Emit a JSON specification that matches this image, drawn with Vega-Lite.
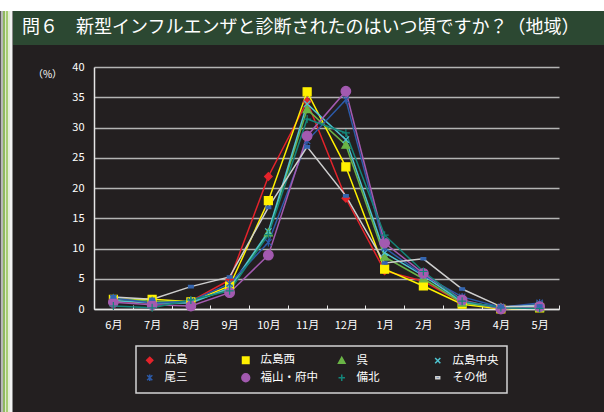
{
  "$schema": "https://vega.github.io/schema/vega-lite/v6.json",
  "background": "#231f20",
  "padding": 0,
  "bounds": "flush",
  "spacing": 0,
  "config": {
    "font": "Noto Sans CJK JP",
    "view": {"stroke": null},
    "axis": {
      "labelFont": "Noto Sans CJK JP",
      "labelColor": "#ffffff",
      "labelFontSize": 11,
      "titleFont": "Noto Sans CJK JP",
      "titleColor": "#ffffff",
      "titleFontSize": 10,
      "titleFontWeight": "normal",
      "domainColor": "#e6e6e6",
      "domainWidth": 1.5,
      "tickColor": "#e6e6e6",
      "gridColor": "#b4b4b4",
      "gridWidth": 1.5
    },
    "legend": {
      "labelFont": "Noto Sans CJK JP",
      "labelColor": "#ffffff",
      "labelFontSize": 11.5,
      "strokeColor": "#d4d4d4",
      "strokeWidth": 1.5,
      "fillColor": "#231f20",
      "symbolStrokeWidth": 1.2,
      "symbolOpacity": 1
    }
  },
  "vconcat": [
    {
      "width": 604,
      "height": 11,
      "view": {"fill": "#ffffff", "stroke": null},
      "data": {"values": []},
      "mark": "point"
    },
    {
      "bounds": "flush",
      "spacing": 0,
      "hconcat": [
        {
          "width": 13,
          "height": 401,
          "data": {"values": [{"part": "frame"}]},
          "mark": {
            "type": "rect",
            "fill": {
              "gradient": "linear",
              "x1": 0, "y1": 0, "x2": 1, "y2": 0,
              "stops": [
                {"offset": 0, "color": "#5a5a5a"},
                {"offset": 0.08, "color": "#5a5a5a"},
                {"offset": 0.08, "color": "#b8b8b8"},
                {"offset": 0.2, "color": "#b8b8b8"},
                {"offset": 0.2, "color": "#8fb860"},
                {"offset": 0.36, "color": "#8fb860"},
                {"offset": 0.36, "color": "#dfe9cf"},
                {"offset": 0.46, "color": "#dfe9cf"},
                {"offset": 0.46, "color": "#a6cc72"},
                {"offset": 0.62, "color": "#a6cc72"},
                {"offset": 0.62, "color": "#e3edd6"},
                {"offset": 0.77, "color": "#e3edd6"},
                {"offset": 0.77, "color": "#f2f2f2"},
                {"offset": 0.92, "color": "#f2f2f2"},
                {"offset": 0.92, "color": "#8a8a8a"},
                {"offset": 1, "color": "#8a8a8a"}
              ]
            }
          },
          "encoding": {
            "x": {"datum": 0, "type": "quantitative", "scale": {"domain": [0, 1]}, "axis": null},
            "x2": {"datum": 1},
            "y": {"datum": 0, "type": "quantitative", "scale": {"domain": [0, 1]}, "axis": null},
            "y2": {"datum": 1}
          }
        },
        {
          "bounds": "flush",
          "spacing": 22,
          "vconcat": [
            {
              "width": 591,
              "height": 34,
              "view": {"fill": "#2c4832", "stroke": null},
              "data": {"values": [{"title": "問６　新型インフルエンザと診断されたのはいつ頃ですか？（地域）"}]},
              "mark": {"type": "text", "align": "left", "baseline": "middle", "dx": 9, "color": "#ffffff", "fontSize": 18, "font": "Noto Sans CJK JP"},
              "encoding": {
                "text": {"field": "title"},
                "x": {"datum": 0, "type": "quantitative", "scale": {"domain": [0, 1]}, "axis": null},
                "y": {"datum": 0.5, "type": "quantitative", "scale": {"domain": [0, 1]}, "axis": null}
              }
            },
            {
              "bounds": "flush",
              "spacing": 0,
              "hconcat": [
                {
                  "width": 81,
                  "height": 242,
                  "data": {"values": []},
                  "mark": "point"
                },
                {
                  "width": 465,
                  "height": 242,
                  "data": {
                    "values": [
                      {"series": "広島", "month": "6月", "pct": 1.3},
                      {"series": "広島", "month": "7月", "pct": 1.0},
                      {"series": "広島", "month": "8月", "pct": 1.3},
                      {"series": "広島", "month": "9月", "pct": 4.8},
                      {"series": "広島", "month": "10月", "pct": 21.9},
                      {"series": "広島", "month": "11月", "pct": 34.3},
                      {"series": "広島", "month": "12月", "pct": 18.3},
                      {"series": "広島", "month": "1月", "pct": 6.3},
                      {"series": "広島", "month": "2月", "pct": 4.6},
                      {"series": "広島", "month": "3月", "pct": 1.0},
                      {"series": "広島", "month": "4月", "pct": 0.3},
                      {"series": "広島", "month": "5月", "pct": 0.3},
                      {"series": "広島西", "month": "6月", "pct": 1.6},
                      {"series": "広島西", "month": "7月", "pct": 1.6},
                      {"series": "広島西", "month": "8月", "pct": 1.2},
                      {"series": "広島西", "month": "9月", "pct": 3.8},
                      {"series": "広島西", "month": "10月", "pct": 17.9},
                      {"series": "広島西", "month": "11月", "pct": 35.9},
                      {"series": "広島西", "month": "12月", "pct": 23.5},
                      {"series": "広島西", "month": "1月", "pct": 6.6},
                      {"series": "広島西", "month": "2月", "pct": 3.8},
                      {"series": "広島西", "month": "3月", "pct": 0.8},
                      {"series": "広島西", "month": "4月", "pct": 0.0},
                      {"series": "広島西", "month": "5月", "pct": 0.2},
                      {"series": "呉", "month": "6月", "pct": 1.7},
                      {"series": "呉", "month": "7月", "pct": 1.3},
                      {"series": "呉", "month": "8月", "pct": 1.2},
                      {"series": "呉", "month": "9月", "pct": 3.3},
                      {"series": "呉", "month": "10月", "pct": 12.6},
                      {"series": "呉", "month": "11月", "pct": 33.0},
                      {"series": "呉", "month": "12月", "pct": 27.1},
                      {"series": "呉", "month": "1月", "pct": 8.6},
                      {"series": "呉", "month": "2月", "pct": 5.0},
                      {"series": "呉", "month": "3月", "pct": 1.0},
                      {"series": "呉", "month": "4月", "pct": 0.2},
                      {"series": "呉", "month": "5月", "pct": 0.2},
                      {"series": "広島中央", "month": "6月", "pct": 1.4},
                      {"series": "広島中央", "month": "7月", "pct": 1.0},
                      {"series": "広島中央", "month": "8月", "pct": 1.0},
                      {"series": "広島中央", "month": "9月", "pct": 3.5},
                      {"series": "広島中央", "month": "10月", "pct": 12.8},
                      {"series": "広島中央", "month": "11月", "pct": 33.9},
                      {"series": "広島中央", "month": "12月", "pct": 28.0},
                      {"series": "広島中央", "month": "1月", "pct": 9.3},
                      {"series": "広島中央", "month": "2月", "pct": 5.5},
                      {"series": "広島中央", "month": "3月", "pct": 1.2},
                      {"series": "広島中央", "month": "4月", "pct": 0.3},
                      {"series": "広島中央", "month": "5月", "pct": 0.7},
                      {"series": "尾三", "month": "6月", "pct": 1.8},
                      {"series": "尾三", "month": "7月", "pct": 1.0},
                      {"series": "尾三", "month": "8月", "pct": 1.3},
                      {"series": "尾三", "month": "9月", "pct": 4.2},
                      {"series": "尾三", "month": "10月", "pct": 11.0},
                      {"series": "尾三", "month": "11月", "pct": 27.8},
                      {"series": "尾三", "month": "12月", "pct": 34.6},
                      {"series": "尾三", "month": "1月", "pct": 10.1},
                      {"series": "尾三", "month": "2月", "pct": 5.6},
                      {"series": "尾三", "month": "3月", "pct": 2.0},
                      {"series": "尾三", "month": "4月", "pct": 0.3},
                      {"series": "尾三", "month": "5月", "pct": 1.0},
                      {"series": "福山・府中", "month": "6月", "pct": 1.1},
                      {"series": "福山・府中", "month": "7月", "pct": 0.7},
                      {"series": "福山・府中", "month": "8月", "pct": 0.5},
                      {"series": "福山・府中", "month": "9月", "pct": 2.7},
                      {"series": "福山・府中", "month": "10月", "pct": 8.9},
                      {"series": "福山・府中", "month": "11月", "pct": 28.6},
                      {"series": "福山・府中", "month": "12月", "pct": 36.0},
                      {"series": "福山・府中", "month": "1月", "pct": 10.9},
                      {"series": "福山・府中", "month": "2月", "pct": 5.9},
                      {"series": "福山・府中", "month": "3月", "pct": 1.5},
                      {"series": "福山・府中", "month": "4月", "pct": 0.0},
                      {"series": "福山・府中", "month": "5月", "pct": 0.4},
                      {"series": "備北", "month": "6月", "pct": 0.5},
                      {"series": "備北", "month": "7月", "pct": 0.2},
                      {"series": "備北", "month": "8月", "pct": 1.5},
                      {"series": "備北", "month": "9月", "pct": 3.0},
                      {"series": "備北", "month": "10月", "pct": 12.3},
                      {"series": "備北", "month": "11月", "pct": 31.4},
                      {"series": "備北", "month": "12月", "pct": 29.1},
                      {"series": "備北", "month": "1月", "pct": 12.2},
                      {"series": "備北", "month": "2月", "pct": 6.2},
                      {"series": "備北", "month": "3月", "pct": 1.3},
                      {"series": "備北", "month": "4月", "pct": 0.2},
                      {"series": "備北", "month": "5月", "pct": 0.1},
                      {"series": "その他", "month": "6月", "pct": 2.0},
                      {"series": "その他", "month": "7月", "pct": 1.6},
                      {"series": "その他", "month": "8月", "pct": 3.7},
                      {"series": "その他", "month": "9月", "pct": 5.3},
                      {"series": "その他", "month": "10月", "pct": 16.8},
                      {"series": "その他", "month": "11月", "pct": 26.8},
                      {"series": "その他", "month": "12月", "pct": 18.7},
                      {"series": "その他", "month": "1月", "pct": 7.6},
                      {"series": "その他", "month": "2月", "pct": 8.3},
                      {"series": "その他", "month": "3月", "pct": 3.3},
                      {"series": "その他", "month": "4月", "pct": 0.4},
                      {"series": "その他", "month": "5月", "pct": 0.5}
                    ]
                  },
                  "encoding": {
                    "x": {
                      "field": "month",
                      "type": "ordinal",
                      "sort": ["6月", "7月", "8月", "9月", "10月", "11月", "12月", "1月", "2月", "3月", "4月", "5月"],
                      "scale": {"type": "band", "paddingInner": 0, "paddingOuter": 0},
                      "axis": {"title": null, "labelAngle": 0, "tickBand": "extent", "tickSize": -4, "labelPadding": 14, "grid": false}
                    },
                    "y": {
                      "field": "pct",
                      "type": "quantitative",
                      "scale": {"domain": [0, 40]},
                      "axis": {
                        "values": [0, 5, 10, 15, 20, 25, 30, 35, 40],
                        "title": "（%）",
                        "titleAngle": 0,
                        "titleX": -47,
                        "titleY": 7,
                        "titleAlign": "center",
                        "titleBaseline": "middle",
                        "ticks": false,
                        "labelPadding": 10,
                        "grid": true
                      }
                    }
                  },
                  "layer": [
                    {
                      "mark": {"type": "line"},
                      "encoding": {
                        "color": {
                          "field": "series",
                          "type": "nominal",
                          "scale": {
                            "domain": ["広島", "広島西", "呉", "広島中央", "尾三", "福山・府中", "備北", "その他"],
                            "range": ["#e4232b", "#fff100", "#6ab446", "#4ec3cf", "#2c5aa8", "#a35ab0", "#14857a", "#cfcfcf"]
                          }
                        },
                        "strokeWidth": {
                          "field": "series",
                          "type": "ordinal",
                          "scale": {
                            "domain": ["広島", "広島西", "呉", "広島中央", "尾三", "福山・府中", "備北", "その他"],
                            "range": [1.5, 1.5, 2, 2, 2, 3, 2.5, 2]
                          }
                        }
                      }
                    },
                    {
                      "mark": {"type": "point", "filled": true, "size": 64, "opacity": 1, "strokeWidth": 1.2},
                      "encoding": {
                        "shape": {
                          "field": "series",
                          "type": "nominal",
                          "scale": {
                            "domain": ["広島", "広島西", "呉", "広島中央", "尾三", "福山・府中", "備北", "その他"],
                            "range": [
                              "M0,-0.95L0.95,0L0,0.95L-0.95,0Z",
                              "M-1,-1H1V1H-1Z",
                              "M0,-1L1,0.8H-1Z",
                              "M-0.8,-0.8L0.8,0.8M0.8,-0.8L-0.8,0.8",
                              "M-0.8,-0.8L0.8,0.8M0.8,-0.8L-0.8,0.8M0,-1V1",
                              "M1.2,0A1.2,1.2,0,1,1,-1.2,0A1.2,1.2,0,1,1,1.2,0Z",
                              "M-1,0H1M0,-1V1",
                              "M-0.6,-0.3H0.6V0.3H-0.6Z"
                            ]
                          },
                          "legend": {
                            "title": null,
                            "orient": "none",
                            "legendX": 136,
                            "legendY": 346,
                            "direction": "horizontal",
                            "columns": 4,
                            "gridAlign": "all",
                            "symbolSize": 42,
                            "labelOffset": 9,
                            "columnPadding": 16,
                            "rowPadding": 3,
                            "padding": 8
                          }
                        },
                        "fill": {
                          "field": "series",
                          "type": "nominal",
                          "scale": {
                            "domain": ["広島", "広島西", "呉", "広島中央", "尾三", "福山・府中", "備北", "その他"],
                            "range": ["#e4232b", "#fff100", "#6ab446", "#4ec3cf", "#2c5aa8", "#a35ab0", "#14857a", "#3566b0"]
                          }
                        },
                        "stroke": {
                          "field": "series",
                          "type": "nominal",
                          "scale": {
                            "domain": ["広島", "広島西", "呉", "広島中央", "尾三", "福山・府中", "備北", "その他"],
                            "range": ["#e4232b", "#fff100", "#6ab446", "#4ec3cf", "#2c5aa8", "#a35ab0", "#14857a", "#3566b0"]
                          }
                        }
                      }
                    }
                  ]
                }
              ]
            }
          ]
        }
      ]
    }
  ]
}
